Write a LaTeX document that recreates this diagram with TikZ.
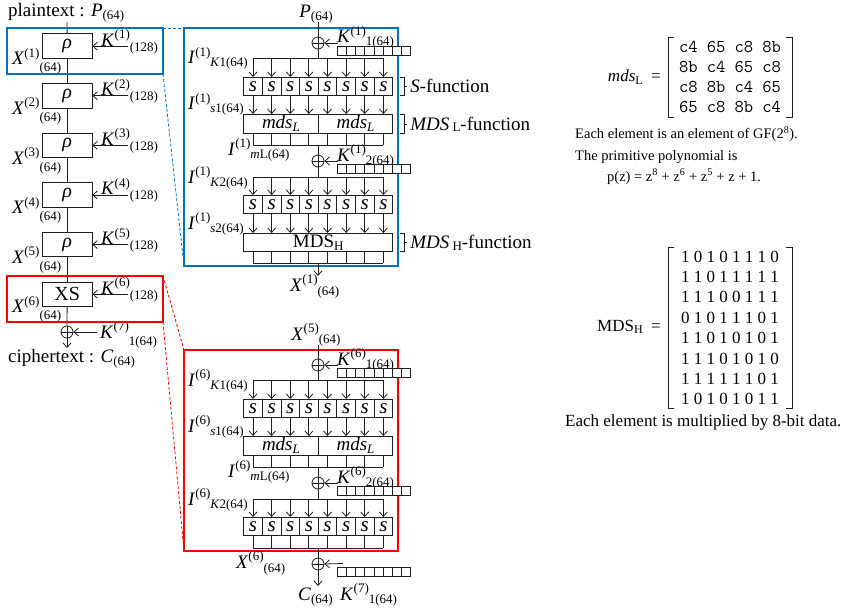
\documentclass[tikz,border=0pt]{standalone}
\usepackage{fontspec}
\setmainfont{Liberation Serif}
\usetikzlibrary{arrows.meta}

\definecolor{frameblue}{RGB}{0,112,192}
\definecolor{framered}{RGB}{255,0,0}
\definecolor{ink}{gray}{0.12}

% type sizes (1pt = 1 unit of the drawing)
\newcommand\dfont{\fontsize{19}{22}\selectfont}
\newcommand\sfont{\fontsize{13}{15}\selectfont}
\newcommand\hi[1]{\raisebox{7.5pt}{\sfont #1}}
\newcommand\lo[2][4]{\raisebox{-#1pt}{\sfont #2}}

\tikzset{
  wire/.style={draw=ink, line width=0.8pt},
  flow/.style={wire, -{Straight Barb[length=4.5pt,width=8pt]}},
  blk/.style={draw=ink, line width=0.8pt, fill=white, inner sep=0pt, anchor=north west, font=\dfont},
  rhobox/.style={blk, minimum width=49.5pt, minimum height=24.5pt, font=\fontsize{20}{22}\selectfont},
  sfun/.style={blk, minimum width=18.625pt, minimum height=18pt, font=\fontsize{21}{22}\selectfont},
  mbox/.style={blk, minimum width=74.5pt, minimum height=19pt},
  hbox/.style={blk, minimum width=149pt, minimum height=18pt},
  kbit/.style={draw=ink, line width=0.7pt, fill=white, inner sep=0pt, anchor=north west,
    minimum width=9.125pt, minimum height=9pt},
  xor/.style={circle, draw=ink, line width=0.8pt, fill=white, minimum size=12pt, inner sep=0pt,
    path picture={\draw[ink, line width=0.8pt]
      (path picture bounding box.north) -- (path picture bounding box.south)
      (path picture bounding box.west) -- (path picture bounding box.east);}},
  lbl/.style={font=\dfont, inner sep=0pt, anchor=base west},
  note/.style={font=\fontsize{14.5}{16}\selectfont, inner sep=0pt, anchor=base west},
  bignote/.style={font=\fontsize{17}{20}\selectfont, inner sep=0pt},
  mono/.style={font=\ttfamily\fontsize{18}{20}\selectfont, inner sep=0pt, anchor=base},
  zoomframe/.style={line width=1.3pt},
  guide/.style={line width=0.8pt, dash pattern=on 3pt off 2pt},
  brace/.style={draw=ink, line width=0.8pt},
  mbracket/.style={draw=ink, line width=0.9pt},
}

% one round: key XOR, S layer, mds_L layer, key XOR, S layer
% #1 name prefix, #2 vertical offset, #3 round number
\newcommand\roundbody[3]{%
  \node[xor] (#1x1) at (318,#2+43) {};
  \node[lbl] (#1k1lbl) at (337,#2+43) {\textit{K}\hi{(#3)}\lo[3]{1(64)}};
  \foreach \j in {1,...,8} {
    \node[kbit] (#1ka\j) at ({337+9.125*(\j-1)},#2+46) {};
    \node[sfun] (#1sa\j) at ({243.3+18.625*(\j-1)},#2+77) {\textit{s}};
  }
  \coordinate (#1kia) at (338,#2+43);
  \draw[flow] (#1kia) -- (#1x1.east);
  \coordinate (#1ba) at (318,#2+58);
  \draw[wire] (#1x1.south) -- (#1ba);
  \draw[wire] (#1sa1.north |- #1ba) -- (#1sa8.north |- #1ba);
  \node[mbox] (#1ml) at (243.3,#2+114) {\textit{mds}\lo[3]{\textit{L}}};
  \node[mbox] (#1mr) at (317.8,#2+114) {\textit{mds}\lo[3]{\textit{L}}};
  \coordinate (#1bc) at (318,#2+145);
  \foreach \j in {1,...,8} {
    \draw[flow] (#1sa\j.north |- #1ba) -- (#1sa\j.north);
    \draw[flow] (#1sa\j.south) -- (#1sa\j.south |- #1ml.north);
    \draw[wire] (#1sa\j.south |- #1ml.south) -- (#1sa\j.south |- #1bc);
  }
  \draw[wire] (#1sa1.south |- #1bc) -- (#1sa8.south |- #1bc);
  \node[xor] (#1x2) at (318,#2+161) {};
  \draw[wire] (#1bc) -- (#1x2.north);
  \node[lbl] (#1k2lbl) at (337,#2+161) {\textit{K}\hi{(#3)}\lo[3]{2(64)}};
  \foreach \j in {1,...,8} {
    \node[kbit] (#1kb\j) at ({337+9.125*(\j-1)},#2+164) {};
    \node[sfun] (#1sb\j) at ({243.3+18.625*(\j-1)},#2+195) {\textit{s}};
  }
  \coordinate (#1kib) at (338,#2+161);
  \draw[flow] (#1kib) -- (#1x2.east);
  \coordinate (#1bb) at (318,#2+177);
  \draw[wire] (#1x2.south) -- (#1bb);
  \draw[wire] (#1sb1.north |- #1bb) -- (#1sb8.north |- #1bb);
  \foreach \j in {1,...,8} \draw[flow] (#1sb\j.north |- #1bb) -- (#1sb\j.north);
  \node[lbl] (#1iK1) at (188,#2+64) {\textit{I}\hi{(#3)}\lo[3]{\textit{K}1(64)}};
  \node[lbl] (#1is1) at (188,#2+110) {\textit{I}\hi{(#3)}\lo[3]{\textit{s}1(64)}};
  \node[lbl] (#1imL) at (228,#2+155) {\textit{I}\hi{(#3)}\lo[3]{\textit{m}L(64)}};
  \node[lbl] (#1iK2) at (188,#2+183) {\textit{I}\hi{(#3)}\lo[3]{\textit{K}2(64)}};
}

\begin{document}
\begin{tikzpicture}[x=1pt,y=-1pt]
\useasboundingbox (0,0) rectangle (853,607);

% ---------- overall structure ----------
\node[lbl] (ptxt) at (8,17) {plaintext : \textit{P}\lo[3]{(64)}};
\coordinate (ptop) at (67,22);
\coordinate (kx) at (128,0);
\foreach \i/\yy in {1/33.5,2/83.1,3/132.7,4/182.3,5/231.9,6/281.5} {
  \ifnum\i<6
    \node[rhobox] (r\i) at (42,\yy) {\textit{ρ}};
  \else
    \node[rhobox] (r\i) at (42,\yy) {XS};
  \fi
  \coordinate (kin\i) at (r\i.east -| kx);
  \draw[flow] (kin\i) -- (r\i.east);
  \node[lbl] (kl\i) at ([xshift=-27pt]kin\i) {\textit{K}\hi{(\i)}\lo[5]{(128)}};
  \node[lbl] (xl\i) at ([xshift=-30pt,yshift=-6pt]r\i.south west) {\textit{X}\hi{(\i)}\lo[7]{(64)}};
}
\draw[wire] (ptop) -- (r1.north);
\foreach \i/\n in {1/2,2/3,3/4,4/5,5/6} \draw[wire] (r\i.south) -- (r\n.north);
\node[xor] (x0) at (67,332) {};
\draw[wire] (r6.south) -- (x0.north);
\coordinate (k7in) at (97,332);
\draw[flow] (k7in) -- (x0.east);
\node[lbl] (k7l) at (100,338) {\textit{K}\hi{(7)}\lo[7]{1(64)}};
\coordinate (cout) at (67,348);
\draw[flow] (x0.south) -- (cout);
\node[lbl] (ctxt) at (8,362) {ciphertext : \textit{C}\lo[3]{(64)}};

% ---------- selection frames and guides ----------
\coordinate (bs1) at (7,28);   \coordinate (bs2) at (163,74);
\coordinate (bd1) at (184,28); \coordinate (bd2) at (398,266);
\coordinate (rs1) at (7,276);  \coordinate (rs2) at (163,322);
\coordinate (rd1) at (184,350); \coordinate (rd2) at (398,551);
\draw[frameblue, zoomframe] (bs1) rectangle (bs2);
\draw[frameblue, zoomframe] (bd1) rectangle (bd2);
\draw[framered, zoomframe] (rs1) rectangle (rs2);
\draw[framered, zoomframe] (rd1) rectangle (rd2);
\draw[frameblue, guide] (bs2 |- bs1) -- (bd1);
\draw[frameblue, guide] (bs2) -- (bd1 |- bd2);
\draw[framered, guide] (rs2 |- rs1) -- (rd1);
\draw[framered, guide] (rs2) -- (rd1 |- rd2);

% ---------- round function rho ----------
\node[lbl, anchor=base] (plbl) at (316,18) {\textit{P}\lo[3]{(64)}};
\coordinate (atop) at (318,22);
\roundbody{a}{0}{1}
\draw[wire] (atop) -- (ax1.north);
\node[hbox] (amh) at (243.3,233) {MDS\lo[3]{H}};
\coordinate (abd) at (318,263);
\foreach \j in {1,...,8} {
  \draw[flow] (asb\j.south) -- (asb\j.south |- amh.north);
  \draw[wire] (asb\j.south |- amh.south) -- (asb\j.south |- abd);
}
\draw[wire] (asb1.south |- abd) -- (asb8.south |- abd);
\coordinate (aout) at (318,276);
\draw[flow] (abd) -- (aout);
\node[lbl] (ais2) at (188,229) {\textit{I}\hi{(1)}\lo[3]{\textit{s}2(64)}};
\node[lbl] (axo) at (290,291) {\textit{X}\hi{(1)}\lo[4]{(64)}};

% layer braces
\draw[brace] ([xshift=7pt]asa8.north east) -- ++(4,0) -- ([xshift=11pt]asa8.south east) -- ([xshift=7pt]asa8.south east)
  ([xshift=11pt]asa8.east) -- ++(3,0);
\node[lbl] (sfl) at ([xshift=17pt,yshift=-6.5pt]asa8.east) {\textit{S}-function};
\draw[brace] ([xshift=7pt]amr.north east) -- ++(4,0) -- ([xshift=11pt]amr.south east) -- ([xshift=7pt]amr.south east)
  ([xshift=11pt]amr.east) -- ++(3,0);
\node[lbl] (mlfl) at ([xshift=17pt,yshift=-6.5pt]amr.east) {\textit{MDS}\,\lo[1.5]{L}-function};
\draw[brace] ([xshift=7pt]amh.north east) -- ++(4,0) -- ([xshift=11pt]amh.south east) -- ([xshift=7pt]amh.south east)
  ([xshift=11pt]amh.east) -- ++(3,0);
\node[lbl] (mhfl) at ([xshift=17pt,yshift=-6.5pt]amh.east) {\textit{MDS}\,\lo[1.5]{H}-function};

% ---------- final function XS ----------
\node[lbl, anchor=base] (x5lbl) at (316,340) {\textit{X}\hi{(5)}\lo[3]{(64)}};
\coordinate (btop) at (318,345);
\roundbody{b}{322}{6}
\draw[wire] (btop) -- (bx1.north);
\coordinate (bbd) at (318,548);
\foreach \j in {1,...,8} \draw[wire] (bsb\j.south) -- (bsb\j.south |- bbd);
\draw[wire] (bsb1.south |- bbd) -- (bsb8.south |- bbd);
\node[xor] (bx3) at (318,564) {};
\draw[wire] (bbd) -- (bx3.north);
\foreach \j in {1,...,8} \node[kbit] (bkc\j) at ({337+9.125*(\j-1)},567) {};
\coordinate (bk7in) at (343,563.5);
\draw[flow] (bk7in) -- (bx3.east);
\coordinate (bout) at (318,586);
\draw[flow] (bx3.south) -- (bout);
\node[lbl] (x6lbl) at (236,568) {\textit{X}\hi{(6)}\lo[4]{(64)}};
\node[lbl] (clbl) at (298,600) {\textit{C}\lo[3]{(64)}};
\node[lbl] (k7lbl) at (340,600) {\textit{K}\hi{(7)}\lo[3]{1(64)}};

% ---------- matrix mds_L ----------
\node[bignote, anchor=east] (mdsl) at (661,77) {\textit{mds}\raisebox{-2.5pt}{\fontsize{12}{14}\selectfont L}\ \ =};
\foreach \k/\row in {0/c4 65 c8 8b,1/8b c4 65 c8,2/c8 8b c4 65,3/65 c8 8b c4}
  \node[mono] (ml\k) at (730,{53+20*\k}) {\row};
\draw[mbracket] (674,37) -| (668,117) -- (674,117);
\draw[mbracket] (786,37) -| (792,117) -- (786,117);
\node[note] (gf1) at (575,139) {Each element is an element of GF(2\textsuperscript{8}).};
\node[note] (gf2) at (575,160) {The primitive polynomial is};
\node[note] (gf3) at (607,181) {p(z) = z\textsuperscript{8} + z\textsuperscript{6} + z\textsuperscript{5} + z + 1.};

% ---------- matrix MDS_H ----------
\node[bignote, anchor=east] (mdsh) at (661,327) {MDS\raisebox{-2.5pt}{\fontsize{12}{14}\selectfont H}\ \ =};
\foreach \k/\row in {0/1 0 1 0 1 1 1 0,1/1 1 0 1 1 1 1 1,2/1 1 1 0 0 1 1 1,3/0 1 0 1 1 1 0 1,
                     4/1 1 0 1 0 1 0 1,5/1 1 1 0 1 0 1 0,6/1 1 1 1 1 1 0 1,7/1 0 1 0 1 0 1 1}
  \node[bignote, anchor=base] (mh\k) at (730,{262+20.4*\k}) {\row};
\draw[mbracket] (674,247) -| (668,408) -- (674,408);
\draw[mbracket] (786,247) -| (792,408) -- (786,408);
\node[bignote, anchor=base west] (mul) at (565,426) {Each element is multiplied by 8-bit data.};
\end{tikzpicture}
\end{document}
